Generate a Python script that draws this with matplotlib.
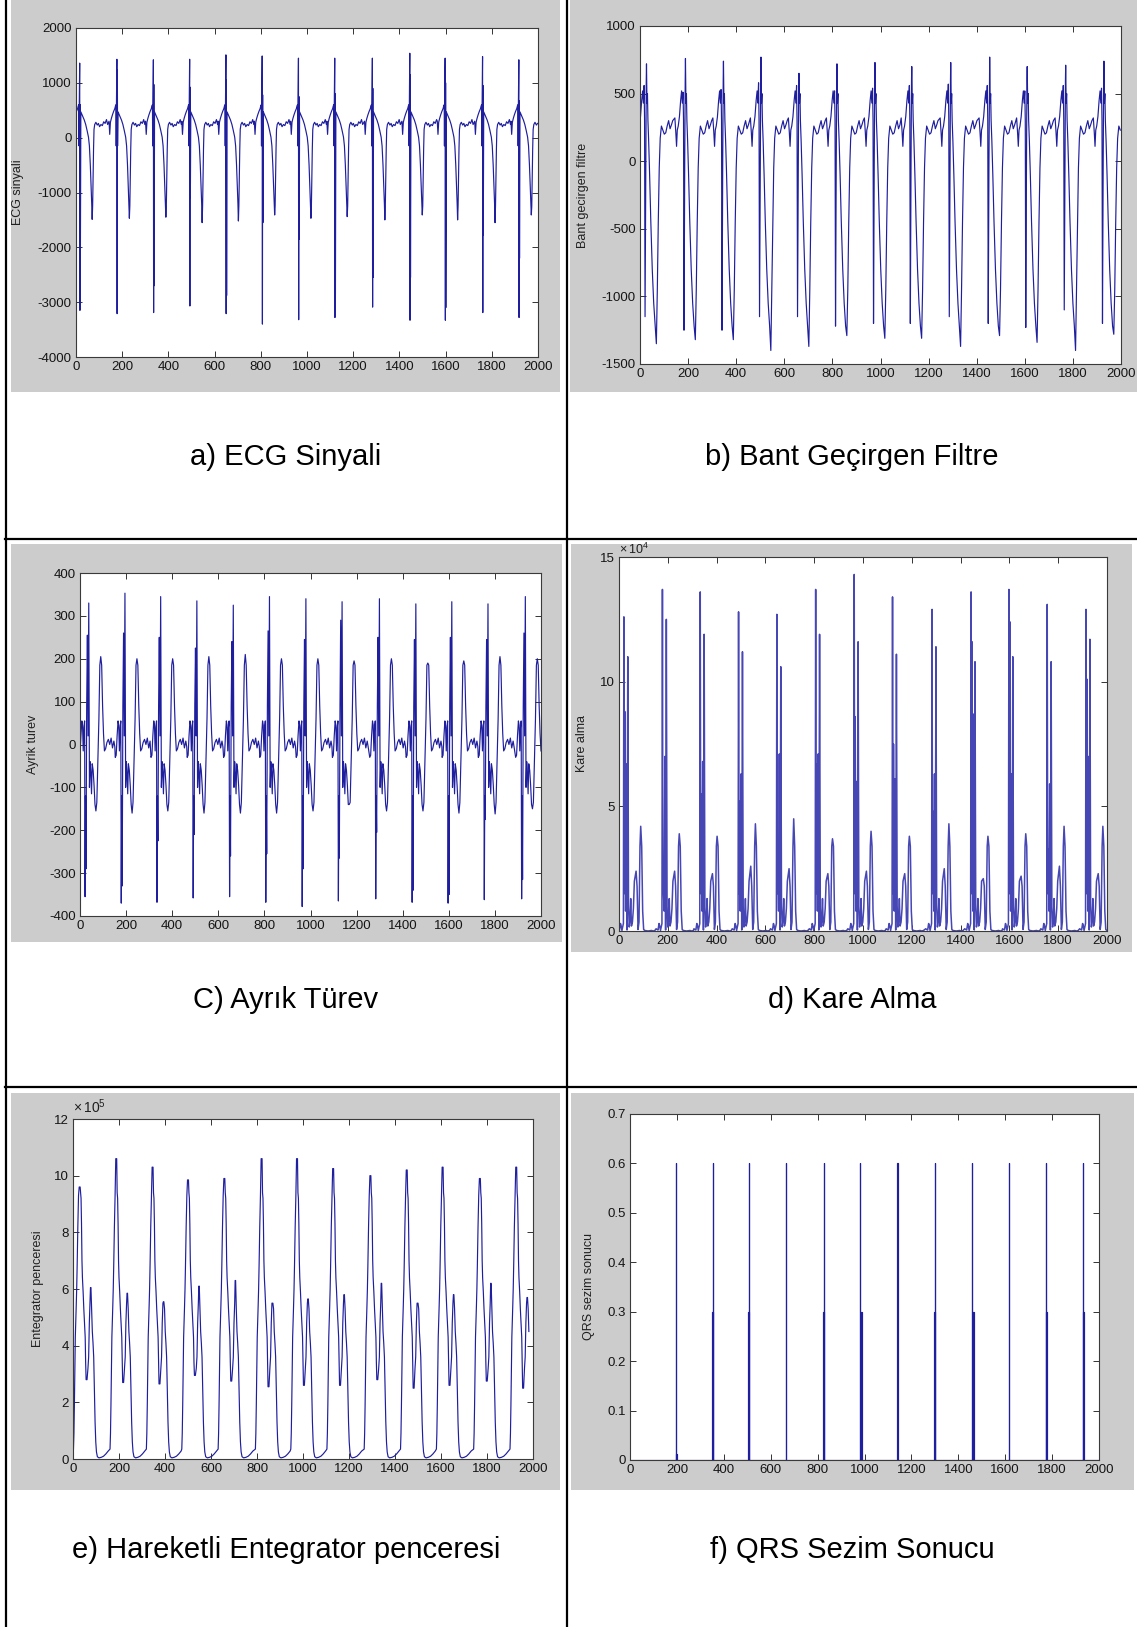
import matplotlib
matplotlib.use('Agg')
import matplotlib.pyplot as plt
from matplotlib.patches import Rectangle
from matplotlib.lines import Line2D

plt.rcParams['font.family'] = ['Liberation Sans', 'DejaVu Sans']
plt.rcParams['mathtext.fontset'] = 'custom'
plt.rcParams['mathtext.rm'] = 'Liberation Sans'
plt.rcParams['axes.unicode_minus'] = False

# ---------------- data ----------------
x_ticks = list(range(0, 2001, 200))

# a) ECG signal: beat template (offset from R, value) + per-beat values
ecg_pos = [16, 177, 335, 492, 649, 806, 963, 1120, 1283, 1445, 1598, 1760, 1917]
ecg_r = [1360, 1430, 1420, 1430, 1510, 1490, 1450, 1450, 1450, 1540, 1450, 1480, 1420]
ecg_s = [-3150, -3210, -3190, -3070, -3210, -3400, -3320, -3280, -3090, -3330, -3330, -3190, -3280]
ecg_r2 = [600, 1230, 970, 920, 1060, 780, 750, 800, 900, 1150, 1000, 950, 670]
ecg_s2 = [-2100, -150, -2700, -1100, -2880, -1550, -1850, -2950, -2550, -2550, -3100, -1780, -2200]
ecg_t = [-1490, -1470, -1450, -1550, -1520, -1410, -1470, -1440, -1500, -1410, -1500, -1550, -1410]
ecg_off = [-34, -31, -28, -24, -19, -14, -9, -6, -4, -3, -2,
           5, 9, 14, 20, 26, 32, 38, 42, 46, 49, 52,
           56, 58, 60, 62, 65, 70, 76, 81, 86, 92, 98, 104, 110, 116, 121]
ecg_val = [300, 60, 280, 350, 420, 480, 530, 580, 600, -150, 550,
           470, 430, 380, 320, 240, 130, 10, -150, -500, -850, -1200,
           -1250, -700, -200, 150, 240, 280, 230, 260, 200, 240, 220, 290, 260, 330, 240]

# b) band-pass filter output
bp_pos = [27, 189, 347, 503, 661, 819, 977, 1130, 1292, 1454, 1610, 1770, 1929]
bp_peak = [720, 760, 740, 770, 650, 720, 730, 700, 730, 770, 700, 710, 740]
bp_hump = [560, 510, 530, 580, 560, 520, 540, 560, 570, 560, 520, 560, 540]
bp_dip = [-1150, -1250, -1250, -1150, -1150, -1220, -1200, -1200, -1150, -1200, -1230, -1100, -1200]
bp_trough = [-1350, -1320, -1320, -1400, -1370, -1290, -1310, -1310, -1370, -1290, -1340, -1400, -1280]
bp_off = [-44, -40, -37, -34, -30, -25, -20, -16, -13, -8, -3, -1,
          2, 4, 6, 9, 13, 18, 24, 30, 36,
          45, 49, 53, 57, 62, 68, 74, 80, 86, 92, 98, 104, 109]
bp_val = [320, 210, 110, 230, 260, 330, 450, 520, 430, 300, 0, 600,
          430, 500, 300, 150, -100, -450, -800, -1050, -1220,
          -950, -450, -50, 170, 260, 230, 200, 210, 260, 300, 240, 270, 300]

# c) derivative
dv_pos = [38, 195, 350, 507, 665, 822, 980, 1137, 1299, 1457, 1613, 1770, 1932]
dv_p = [330, 353, 345, 335, 325, 345, 340, 333, 340, 328, 333, 328, 345]
dv_n = [-355, -370, -368, -358, -355, -368, -378, -365, -360, -368, -370, -362, -360]
dv_n2 = [-290, -330, -225, -210, -260, -255, -290, -265, -205, -340, -350, -175, -315]
dv_p2 = [255, 260, 250, 225, 240, 265, 245, 290, 250, 245, 250, 245, 260]
dv_trough = [-155, -160, -155, -160, -160, -160, -155, -140, -155, -155, -160, -162, -150]
dv_hump = [205, 200, 200, 205, 210, 200, 200, 195, 200, 190, 195, 205, 200]
dv_off = [-42, -38, -34, -30, -27, -24, -21, -18, -14, -9, -3,
          3, 6, 9, 12, 15, 19, 23, 27,
          35, 40, 44, 48,
          56, 60, 64, 68, 73, 79, 85, 91, 97, 103, 109, 113]
dv_val = [-30, -25, 20, 55, 45, -15, 40, 55, -120, 90, 20,
          -100, -40, -65, -115, -45, -60, -95, -140,
          -135, -25, 60, 185,
          185, 90, 25, -15, -10, 5, 12, 0, 15, -8, 8, -5]

# d) squaring (x 10^4)
sq_pos = [20, 178, 333, 490, 647, 806, 964, 1121, 1283, 1443, 1598, 1755, 1914]
sq_tall1 = [12.6, 13.7, 13.6, 12.8, 12.7, 13.7, 14.3, 13.4, 12.9, 13.6, 13.7, 13.1, 12.9]
sq_tall2 = [11.0, 12.5, 11.9, 11.2, 10.6, 11.9, 11.6, 11.1, 11.4, 10.8, 11.0, 10.8, 11.7]
sq_mid1 = [8.8, 1.6, 5.5, 5.2, 3.0, 6.7, 8.6, 7.5, 4.8, 11.6, 12.4, 3.3, 10.1]
sq_mid2 = [6.7, 7.0, 6.8, 6.3, 7.1, 7.1, 6.0, 6.1, 6.3, 8.7, 6.3, 5.9, 7.0]
sq_small = [2.4, 2.4, 2.3, 2.6, 2.5, 2.3, 2.4, 2.3, 2.5, 2.1, 2.2, 2.6, 2.3]
sq_big = [4.2, 3.9, 3.8, 4.3, 4.5, 3.7, 4.0, 3.8, 4.3, 3.8, 3.9, 4.2, 4.2]
sq_off = [-26, -22, -18, -14, -11, -8, -5, -2,
          2, 7, 13,
          19, 22, 25, 28, 31, 35, 39, 43,
          54, 58, 62, 66,
          73, 77, 81, 86, 92, 99, 106, 113, 120, 127]
sq_val = [0.09, 0.06, 0.04, 0.3, 0.2, 0.02, 0.16, 0.3,
          1.5, 0.8, 0.04,
          1.0, 0.16, 0.42, 1.3, 0.2, 0.36, 0.9, 2.0,
          1.8, 0.06, 0.36, 3.4,
          3.4, 0.8, 0.06, 0.02, 0.01, 0.0, 0.01, 0.02, 0.0, 0.02]

# e) moving window integrator (x 10^5)
mw_pos = [28, 187, 345, 499, 657, 819, 973, 1130, 1292, 1450, 1606, 1768, 1926]
mw_peak = [9.6, 10.6, 10.3, 9.85, 9.9, 10.6, 10.6, 10.25, 10.0, 10.2, 10.3, 9.9, 10.3]
mw_dip = [2.8, 2.7, 2.65, 2.95, 2.75, 2.55, 2.6, 2.6, 2.8, 2.5, 2.6, 2.75, 2.5]
mw_peak2 = [6.05, 5.85, 5.55, 6.1, 6.3, 5.5, 5.65, 5.8, 6.2, 5.5, 5.8, 6.2, 5.7]
mw_off = [-26, -24, -22, -20, -18, -16, -14, -12, -10, -7, -4,
          5, 7, 9, 11, 13, 16, 19, 22, 25, 27,
          37, 40, 43, 46,
          53, 56, 59, 62, 65, 68, 71, 74, 78, 85, 95, 105, 115, 125]
mw_val = [0.35, 0.9, 1.9, 3.2, 4.3, 4.8, 5.4, 6.0, 6.8, 8.2, 9.3,
          9.4, 9.2, 8.3, 7.0, 6.4, 5.9, 5.3, 4.8, 4.3, 3.4,
          3.2, 3.6, 4.8, 5.5,
          5.3, 4.5, 4.1, 3.6, 2.4, 1.3, 0.6, 0.25, 0.08, 0.04, 0.06, 0.1, 0.18, 0.28]
mw_last = 1984

# f) QRS detection result
qrs_tall_pos = [195, 353, 508, 666, 827, 981, 1140, 1301, 1458, 1616, 1772, 1930]
qrs_half_pos = [349, 505, 823, 984, 1298, 1461, 1773, 1933]
qrs_tiny_pos = [197]
qrs_tall_h, qrs_half_h, qrs_tiny_h = 0.6, 0.3, 0.012

captions = ['a) ECG Sinyali', 'b) Bant Geçirgen Filtre', 'C) Ayrık Türev',
            'd) Kare Alma', 'e) Hareketli Entegrator penceresi', 'f) QRS Sezim Sonucu']
ylabels = ['ECG sinyali', 'Bant gecirgen filtre', 'Ayrik turev',
           'Kare alma', 'Entegrator penceresi', 'QRS sezim sonucu']


def build(pos, off, val, slots, x_end=2000):
    first = min(min(off), min(o for o, _ in slots))
    xs, ys = [], []
    for i, p in enumerate(pos):
        pts = [(p + o, v) for o, v in zip(off, val)]
        pts += [(p + o, arr[i]) for o, arr in slots]
        pts.sort(key=lambda q: q[0])
        if i + 1 < len(pos):
            pts = [q for q in pts if q[0] < pos[i + 1] + first]
        for x, y in pts:
            if 0 <= x <= x_end:
                xs.append(x)
                ys.append(y)
    return xs, ys


def pulses(items, x_end=2000):
    xs, ys = [0], [0]
    for p, h, w in sorted(items):
        xs += [p, p, p + w, p + w]
        ys += [0, h, h, 0]
    xs.append(x_end)
    ys.append(0)
    return xs, ys


# ---------------- layout (pixels of the 1137x1627 page) ----------------
W, H = 1137, 1627
fig = plt.figure(figsize=(W / 100, H / 100), dpi=100)
fig.patch.set_facecolor('white')


def frac(x0, y0, x1, y1):
    return [x0 / W, 1 - y1 / H, (x1 - x0) / W, (y1 - y0) / H]


gray_boxes = [(11, 0, 560, 392), (570, 0, 1137, 392),
              (11, 544, 562, 942), (571, 544, 1132, 952),
              (11, 1093, 560, 1490), (571, 1093, 1134, 1490)]
axes_boxes = [(76, 28, 538, 357), (640, 26, 1121, 364),
              (80, 573, 541, 916), (619, 557, 1107, 931),
              (73, 1119, 533, 1459), (630, 1114, 1099, 1460)]
ylabel_x = [18, 583, 33, 582, 38, 589]
caption_xy = [(286, 457), (852, 457), (286, 1000), (852, 1000), (286, 1550), (852, 1550)]
row_rules = [539, 1087]

for g in gray_boxes:
    l, b, w, h = frac(*g)
    fig.add_artist(Rectangle((l, b), w, h, transform=fig.transFigure,
                             facecolor='#cccccc', edgecolor='none', zorder=-5))

line_col = '#1e1e9e'
axs = [fig.add_axes(frac(*bx)) for bx in axes_boxes]

x, y = build(ecg_pos, ecg_off, ecg_val,
             [(0, ecg_r), (1, ecg_s), (2, ecg_r2), (3, ecg_s2), (54, ecg_t)])
axs[0].plot(x, y, color=line_col, lw=0.85)

x, y = build(bp_pos, bp_off, bp_val,
             [(-10, bp_hump), (-6, bp_dip), (0, bp_peak), (41, bp_trough)])
axs[1].plot(x, y, color=line_col, lw=0.85)

x, y = build(dv_pos, dv_off, dv_val,
             [(-16, dv_n), (-12, dv_n2), (-6, dv_p2), (0, dv_p), (31, dv_trough), (52, dv_hump)])
axs[2].plot(x, y, color=line_col, lw=0.85)

x, y = build(sq_pos, sq_off, sq_val,
             [(0, sq_tall1), (4, sq_mid1), (10, sq_mid2), (16, sq_tall2), (50, sq_small), (69, sq_big)])
axs[3].plot(x, y, color='#4646b4', lw=1.1)

x, y = build(mw_pos, mw_off, mw_val,
             [(-1, mw_peak), (3, mw_peak), (29, mw_dip), (33, mw_dip), (48, mw_peak2), (50, mw_peak2)],
             x_end=mw_last)
axs[4].plot(x, y, color=line_col, lw=0.85)

items = [(p, qrs_tall_h, 1) for p in qrs_tall_pos]
items += [(p, qrs_half_h, 4) for p in qrs_half_pos]
items += [(p, qrs_tiny_h, 3) for p in qrs_tiny_pos]
x, y = pulses(items)
axs[5].plot(x, y, color=line_col, lw=0.85)

y_setup = [((-4000, 2000), list(range(-4000, 2001, 1000)), None),
           ((-1500, 1000), list(range(-1500, 1001, 500)), None),
           ((-400, 400), list(range(-400, 401, 100)), None),
           ((0, 15), [0, 5, 10, 15], None),
           ((0, 12), list(range(0, 13, 2)), None),
           ((0, 0.7), [i / 10 for i in range(8)], ['0'] + ['0.%d' % i for i in range(1, 8)])]

for i, ax in enumerate(axs):
    ylim, yt, ylab = y_setup[i]
    ax.set_xlim(0, 2000)
    ax.set_ylim(*ylim)
    ax.set_xticks(x_ticks)
    ax.set_yticks(yt)
    if ylab:
        ax.set_yticklabels(ylab)
    ax.tick_params(direction='in', length=4, width=0.7, top=True, right=True,
                   labelsize=9.5, labelcolor='#151515', color='#333333', pad=3)
    for s in ax.spines.values():
        s.set_color('#3a3a3a')
        s.set_linewidth(0.8)
    bx = axes_boxes[i]
    fig.text(ylabel_x[i] / W, 1 - (bx[1] + bx[3]) / 2 / H, ylabels[i], rotation=90,
             ha='center', va='center', fontsize=9, color='#202020')
    cx, cy = caption_xy[i]
    fig.text(cx / W, 1 - cy / H, captions[i], ha='center', va='center',
             fontsize=21, color='black')

# exponent labels above the top-left corner
axs[3].text(0.0, 1.0, r'$\times\,10^{4}$', transform=axs[3].transAxes,
            ha='left', va='bottom', fontsize=9, color='#202020')
axs[4].text(0.0, 1.01, r'$\times\,10^{5}$', transform=axs[4].transAxes,
            ha='left', va='bottom', fontsize=10, color='#202020')

# table rules
for xv in (6, 567):
    fig.add_artist(Line2D([xv / W, xv / W], [0, 1], transform=fig.transFigure,
                          color='black', lw=1.6, zorder=5))
for yv in row_rules:
    fig.add_artist(Line2D([5 / W, 1], [1 - yv / H, 1 - yv / H], transform=fig.transFigure,
                          color='black', lw=1.6, zorder=5))

fig.savefig('out.png', dpi=100)
